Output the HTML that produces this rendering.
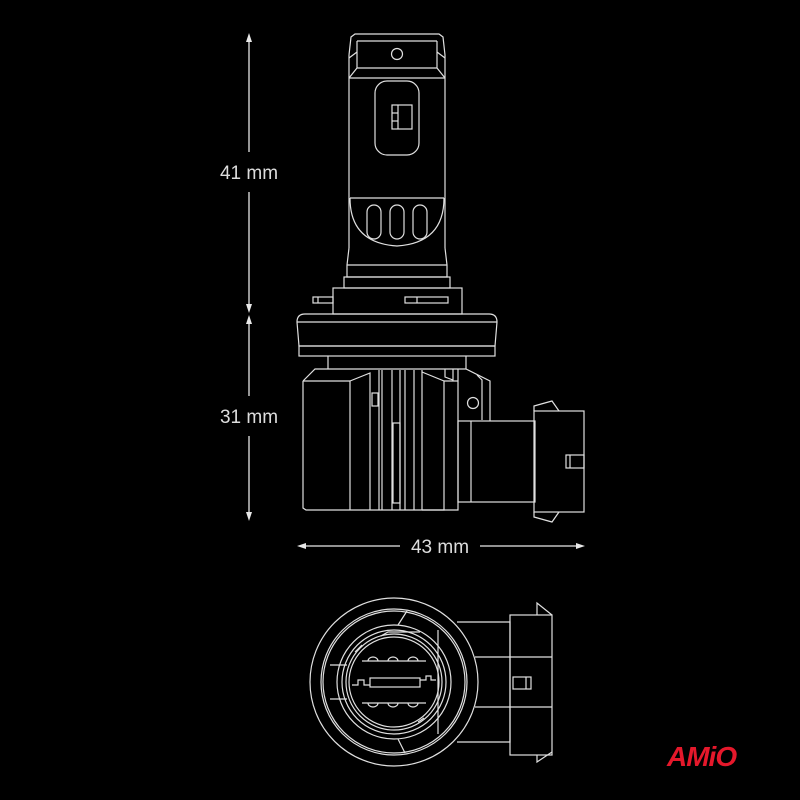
<!DOCTYPE html>
<html><head><meta charset="utf-8"><style>
html,body{margin:0;padding:0;background:#000;width:800px;height:800px;overflow:hidden}
svg{display:block}
text{font-family:"Liberation Sans",sans-serif;fill:#ddd}
</style></head><body>
<svg width="800" height="800" viewBox="0 0 800 800">
<g fill="none" stroke="#e8e8e8" stroke-width="1.3">
<!-- dimension lines -->
<line x1="249" y1="40" x2="249" y2="152"/><line x1="249" y1="192" x2="249" y2="305"/>
<line x1="249" y1="323" x2="249" y2="396"/><line x1="249" y1="436" x2="249" y2="513"/>
<line x1="304" y1="546" x2="400" y2="546"/><line x1="480" y1="546" x2="578" y2="546"/>
</g>
<g fill="#e8e8e8">
<polygon points="249,33 246,42 252,42"/><polygon points="249,313 246,304 252,304"/>
<polygon points="249,315 246,324 252,324"/><polygon points="249,521 246,512 252,512"/>
<polygon points="297,546 306,543 306,549"/><polygon points="585,546 576,543 576,549"/>
</g>
<text x="249" y="179" font-size="19" text-anchor="middle">41 mm</text>
<text x="249" y="423" font-size="19" text-anchor="middle">31 mm</text>
<text x="440" y="553" font-size="19" text-anchor="middle">43 mm</text>

<g fill="none" stroke="#e0e0e0" stroke-width="1.2">
<!-- cap -->
<path d="M349,55 L351,37 L355,34 L439,34 L443,37 L445,55 L445,78 M349,55 L349,78"/>
<path d="M357,41 L437,41 M357,41 L357,68 M437,41 L437,68 M349,58 L357,52 M445,58 L437,52 M357,68 L437,68 L445,78 M357,68 L349,78"/>
<circle cx="397" cy="54" r="5.5"/>
<line x1="349" y1="78" x2="445" y2="78"/>
<!-- body -->
<line x1="349" y1="78" x2="349" y2="248"/><line x1="445" y1="78" x2="445" y2="248"/>
<rect x="375" y="81" width="44" height="74" rx="12"/>
<rect x="392" y="105" width="20" height="24"/><line x1="398" y1="105" x2="398" y2="129"/>
<line x1="392" y1="113" x2="398" y2="113"/><line x1="392" y1="121" x2="398" y2="121"/>
<line x1="350" y1="198" x2="444" y2="198"/>
<path d="M350,198 Q350,243 397,246 Q444,243 444,198"/>
<rect x="367" y="205" width="14" height="34" rx="7"/><rect x="390" y="205" width="14" height="34" rx="7"/>
<rect x="413" y="205" width="14" height="34" rx="7"/>
<path d="M349,248 L347,265 L347,277 L447,277 L447,265 L445,248 M347,265 L447,265"/>
<rect x="344" y="277" width="106" height="11"/>
<rect x="333" y="288" width="129" height="26"/>
<rect x="313" y="297" width="20" height="6"/><line x1="318" y1="297" x2="318" y2="303"/>
<rect x="405" y="297" width="43" height="6"/><line x1="417" y1="297" x2="417" y2="303"/>
<!-- flange -->
<path d="M297,322 Q297,314 305,314 L489,314 Q497,314 497,322 L495,346 L299,346 Z"/>
<line x1="297" y1="322" x2="497" y2="322"/>
<rect x="299" y="346" width="196" height="10"/>
<path d="M328,356 L328,369 M466,356 L466,369"/>
<!-- lower body -->
<path d="M303,381 L315,369 L466,369 L490,381 L490,421 M303,381 L303,508 L306,510 L458,510 L458,369"/>
<line x1="350" y1="381" x2="350" y2="510"/>
<line x1="303" y1="381" x2="350" y2="381"/>
<path d="M350,381 L370,373 L370,510"/>
<line x1="379" y1="370" x2="379" y2="510"/><line x1="382" y1="370" x2="382" y2="510"/>
<line x1="392" y1="370" x2="392" y2="510"/><line x1="400" y1="370" x2="400" y2="510"/>
<line x1="405" y1="370" x2="405" y2="510"/><line x1="414" y1="370" x2="414" y2="510"/>
<line x1="422" y1="370" x2="422" y2="510"/>
<rect x="372" y="393" width="6" height="13"/><rect x="393" y="423" width="7" height="80"/>
<path d="M422,372 L444,381 L444,510 L422,510 M444,381 L458,381"/>
<path d="M445,369 L445,377 L453,380 L453,369"/>
<path d="M477,375 L482,380 L482,420"/>
<circle cx="473" cy="403" r="5.5"/>
<!-- connector -->
<rect x="458" y="421" width="77" height="81"/>
<line x1="471" y1="421" x2="471" y2="502"/>
<rect x="534" y="411" width="50" height="101"/>
<path d="M534,411 L534,406 L552,401 L559,411 M534,512 L534,517 L552,522 L559,512"/>
<rect x="566" y="455" width="18" height="13"/><line x1="570" y1="455" x2="570" y2="468"/>

<!-- bottom view -->
<circle cx="394" cy="682" r="84"/>
<circle cx="394" cy="682" r="73"/><circle cx="394" cy="682" r="71"/>
<circle cx="394" cy="682" r="57"/>
<circle cx="394" cy="682" r="52"/><circle cx="394" cy="682" r="48"/><circle cx="394" cy="682" r="45"/>
<path d="M407,611 L398,625 M405,753 L398,739 M330,665 L347,665 M330,699 L347,699 M438,630 L438,734"/>
<path d="M381,636 L388,632 L420,632 M362,645 L355,652 M418,722 L424,718"/>
<line x1="362" y1="661" x2="426" y2="661"/><line x1="362" y1="703" x2="426" y2="703"/>
<path d="M368,661 a5,4 0 0 1 10,0 M388,661 a5,4 0 0 1 10,0 M408,661 a5,4 0 0 1 10,0"/>
<path d="M368,703 a5,4 0 0 0 10,0 M388,703 a5,4 0 0 0 10,0 M408,703 a5,4 0 0 0 10,0"/>
<rect x="370" y="678" width="50" height="9"/>
<path d="M352,685 L358,685 L358,680 L364,680 L364,685 L370,685 M420,680 L426,680 L426,676 L431,676 L431,680 L436,680"/>
<path d="M457,622 L510,622 L510,742 L457,742 M475,657 L552,657 M475,707 L552,707"/>
<rect x="510" y="615" width="42" height="140"/>
<path d="M537,615 L537,603 L552,615 M537,755 L537,762 L552,752"/>
<rect x="513" y="677" width="18" height="12"/><line x1="526" y1="677" x2="526" y2="689"/>
</g>
<text x="667" y="766" font-size="28" font-weight="bold" font-style="italic" fill="#e5182b" style="fill:#e5182b;letter-spacing:-1px">AMiO</text>
</svg>
</body></html>
